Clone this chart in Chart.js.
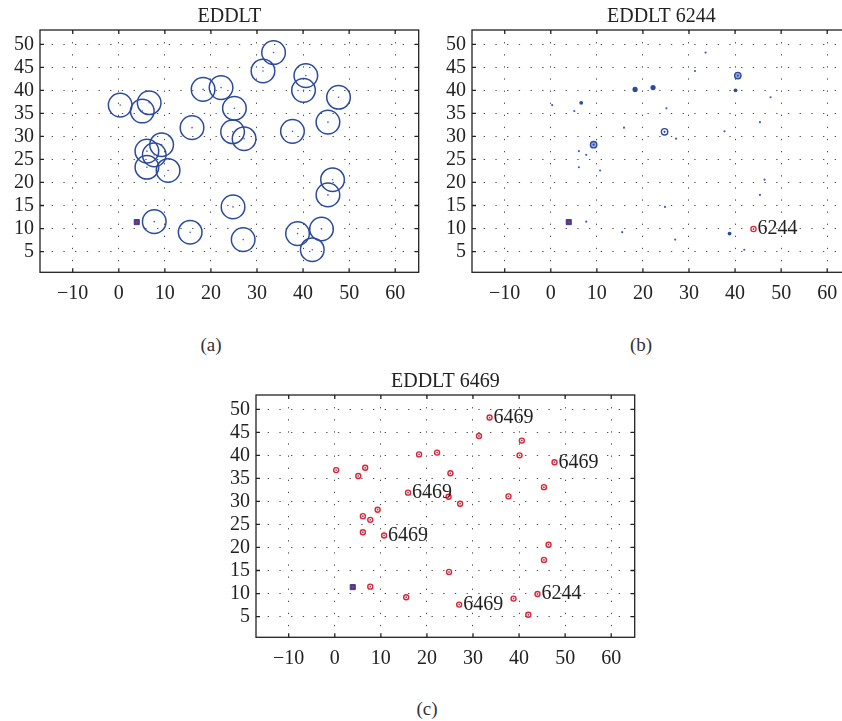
<!DOCTYPE html>
<html>
<head>
<meta charset="utf-8">
<script src="https://cdn.jsdelivr.net/npm/chart.js@4.4.1/dist/chart.umd.min.js"></script>
<style>
  body { margin: 0; background: #fff; width: 842px; height: 721px; overflow: hidden; position: relative; font-family: "Liberation Serif", serif; }
  canvas { position: absolute; }
  .cap { position: absolute; font-size: 19px; line-height: 1; color: #333; transform: translateX(-50%); }
</style>
</head>
<body>
<canvas id="chartA" width="425" height="310" style="left:0;top:0"></canvas>
<canvas id="chartB" width="425" height="310" style="left:432px;top:0"></canvas>
<canvas id="chartC" width="425" height="310" style="left:216px;top:365px"></canvas>
<div class="cap" style="left:211px;top:335px">(a)</div>
<div class="cap" style="left:641px;top:335px">(b)</div>
<div class="cap" style="left:427px;top:699px">(c)</div>
<script>
// node positions
const nodeX = [0.3, 5.1, 6.6, 18.3, 22.2, 25.1, 15.9, 24.7, 27.2, 31.3,
               33.6, 40.6, 40.1, 47.7, 45.4, 37.7, 9.3, 6.1, 7.7, 6.1,
               10.7, 46.4, 45.4, 24.8, 7.7, 15.5, 27.0, 38.8, 44.0, 42.0];
const nodeY = [36.8, 35.5, 37.3, 40.2, 40.6, 36.1, 31.9, 31.0, 29.5, 44.2,
               48.2, 43.2, 40.0, 38.5, 33.1, 31.1, 28.2, 26.8, 26.0, 23.3,
               22.6, 20.6, 17.3, 14.7, 11.5, 9.2, 7.6, 8.9, 9.9, 5.4];
const baseX = [3.9];
const baseY = [11.4];

const xTicks = [-10, 0, 10, 20, 30, 40, 50, 60];
const yTicks = [5, 10, 15, 20, 25, 30, 35, 40, 45, 50];

// node groups
const node6244 = [28];
const nodes6469 = [10, 13, 6, 20, 26];
const bBig = [3, 4];
const bMid = [12, 27, 2];
const bRings = [7];
const bRingsFilled = [16, 11];

const BLUE = '#2b4aa0';
const RED = '#e3232c';
const FONT = 'Liberation Serif';

const pts = idx => idx.map(i => ({x: nodeX[i], y: nodeY[i]}));
const allNodes = nodeX.map((x, i) => ({x, y: nodeY[i]}));
const base = baseX.map((x, i) => ({x, y: baseY[i]}));

const frame = {
  id: 'frame',
  afterDraw(chart) {
    const {ctx, chartArea: a, scales: {x, y}} = chart;
    ctx.save();
    ctx.strokeStyle = '#222';
    ctx.lineWidth = 1.3;
    ctx.strokeRect(a.left, a.top, a.right - a.left, a.bottom - a.top);
    ctx.beginPath();
    xTicks.forEach(v => {
      const px = x.getPixelForValue(v);
      ctx.moveTo(px, a.bottom); ctx.lineTo(px, a.bottom - 4);
      ctx.moveTo(px, a.top); ctx.lineTo(px, a.top + 4);
    });
    yTicks.forEach(v => {
      const py = y.getPixelForValue(v);
      ctx.moveTo(a.left, py); ctx.lineTo(a.left + 4, py);
      ctx.moveTo(a.right, py); ctx.lineTo(a.right - 4, py);
    });
    ctx.stroke();
    ctx.restore();
  }
};

const tags = {
  id: 'tags',
  afterDatasetsDraw(chart) {
    const ctx = chart.ctx;
    ctx.save();
    ctx.font = '20px "' + FONT + '"';
    ctx.fillStyle = '#222';
    ctx.textAlign = 'left';
    ctx.textBaseline = 'middle';
    chart.data.datasets.forEach((ds, i) => {
      if (!ds.tags) return;
      const meta = chart.getDatasetMeta(i);
      ds.tags.forEach((t, j) => {
        const p = meta.data[j];
        ctx.fillText(t, p.x + 4, p.y);
      });
    });
    ctx.restore();
  }
};

function axes() {
  const tickFont = {family: FONT, size: 20};
  return {
    x: {
      type: 'linear', min: -17.1, max: 65.1,
      afterBuildTicks: s => { s.ticks = xTicks.map(v => ({value: v})); },
      afterFit: s => { s.height = 37.7; },
      grid: {color: '#4a4a4a', lineWidth: 1, drawTicks: false},
      border: {display: false, dash: [1.3, 10.8]},
      ticks: {padding: 9, color: '#222', font: tickFont, maxRotation: 0, autoSkip: false,
              callback: v => String(v).replace('-', '\u2212')}
    },
    y: {
      type: 'linear', min: 0.5, max: 53.1,
      afterBuildTicks: s => { s.ticks = yTicks.map(v => ({value: v})); },
      afterFit: s => { s.width = 40; },
      grid: {color: '#4a4a4a', lineWidth: 1, drawTicks: false},
      border: {display: false, dash: [1.3, 10.4]},
      ticks: {padding: 6, color: '#222', font: tickFont, autoSkip: false}
    }
  };
}

function makeChart(id, title, datasets) {
  new Chart(document.getElementById(id), {
    type: 'scatter',
    data: {datasets},
    options: {
      responsive: false,
      animation: false,
      events: [],
      layout: {padding: {top: 0, left: 0, right: 6.3, bottom: 0}, autoPadding: false},
      plugins: {
        legend: {display: false},
        tooltip: {enabled: false},
        title: {display: true, text: title, fullSize: false, color: '#222',
                font: {family: FONT, size: 20, weight: 'normal'}, padding: {top: 4.5, bottom: 1.5}}
      },
      scales: axes()
    },
    plugins: [frame, tags]
  });
}

const baseSets = () => [
  {data: base, pointStyle: 'circle', pointRadius: 1.1, pointBackgroundColor: RED, pointBorderWidth: 0},
  {data: base, pointStyle: 'rect', pointRadius: 3.6, pointBackgroundColor: '#3b3f9e', pointBorderColor: '#3b3f9e', pointBorderWidth: 1}
];

// (a) every node with its range circle
makeChart('chartA', 'EDDLT', [
  ...baseSets(),
  {data: allNodes, pointRadius: 0.8, pointBackgroundColor: '#3a5cc0', pointBorderWidth: 0},
  {data: allNodes, pointRadius: 11.8, pointBackgroundColor: 'rgba(0,0,0,0)', pointBorderColor: BLUE, pointBorderWidth: 1.5}
]);

// (b) node 6244
makeChart('chartB', 'EDDLT 6244', [
  ...baseSets(),
  {data: pts(node6244), tags: ['6244'], pointRadius: 0.9, pointBackgroundColor: '#3a5cc0', pointBorderWidth: 0},
  {data: pts(node6244), pointRadius: 2.6, pointBackgroundColor: '#fff', pointBorderColor: RED, pointBorderWidth: 1.3},
  {data: pts(bRings.concat(bRingsFilled)), pointRadius: 1.1, pointBackgroundColor: '#2b4aa0', pointBorderWidth: 0},
  {data: pts(bRings), pointRadius: 3.2, pointBackgroundColor: '#fff', pointBorderColor: BLUE, pointBorderWidth: 1.4},
  {data: pts(bRingsFilled), pointRadius: 3.2, pointBackgroundColor: '#9aaee0', pointBorderColor: BLUE, pointBorderWidth: 1.4},
  {data: pts(bBig), pointRadius: 2.6, pointBackgroundColor: BLUE, pointBorderWidth: 0},
  {data: pts(bMid), pointRadius: 1.9, pointBackgroundColor: BLUE, pointBorderWidth: 0},
  {data: allNodes, pointRadius: 1.1, pointBackgroundColor: '#4060c0', pointBorderWidth: 0}
]);

// (c) node 6469
makeChart('chartC', 'EDDLT 6469', [
  ...baseSets(),
  {data: pts(nodes6469), tags: nodes6469.map(() => '6469'), pointRadius: 0},
  {data: pts(node6244), tags: ['6244'], pointRadius: 0},
  {data: allNodes, pointRadius: 0.9, pointBackgroundColor: '#3a5cc0', pointBorderWidth: 0},
  {data: allNodes, pointRadius: 2.5, pointBackgroundColor: '#fff', pointBorderColor: RED, pointBorderWidth: 1.4}
]);
</script>
</body>
</html>
